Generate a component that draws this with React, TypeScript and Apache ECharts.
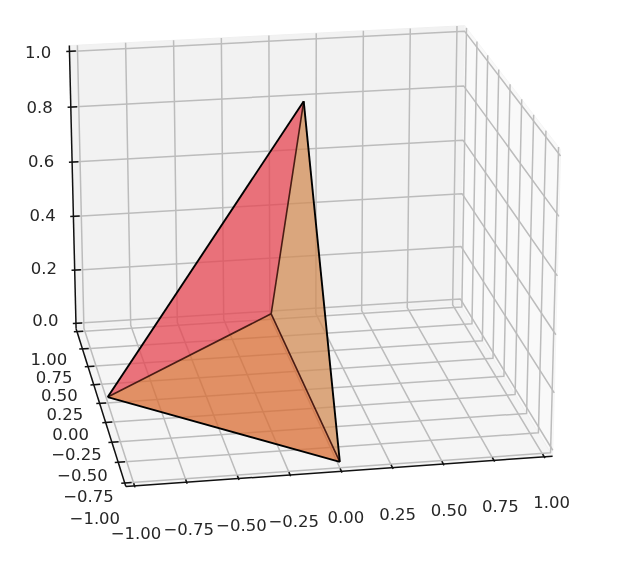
import React, { useEffect, useRef } from "react";
import * as echarts from "echarts";

const xTicks = [-1, -0.75, -0.5, -0.25, 0, 0.25, 0.5, 0.75, 1];
const yTicks = [-1, -0.75, -0.5, -0.25, 0, 0.25, 0.5, 0.75, 1];
const zTicks = [0, 0.2, 0.4, 0.6, 0.8, 1];
const xTickLabels = ["−1.00", "−0.75", "−0.50", "−0.25", "0.00", "0.25", "0.50", "0.75", "1.00"];
const yTickLabels = ["−1.00", "−0.75", "−0.50", "−0.25", "0.00", "0.25", "0.50", "0.75", "1.00"];
const zTickLabels = ["0.0", "0.2", "0.4", "0.6", "0.8", "1.0"];
type V3 = number[];
const leftVertex: V3 = [-1, 0, 0];
const backVertex: V3 = [0, 1, 0];
const frontVertex: V3 = [0, -1, 0];
const apexVertex: V3 = [0, 0, 1];

const dot = (a: V3, b: V3) => a[0] * b[0] + a[1] * b[1] + a[2] * b[2];
const cross = (a: V3, b: V3) => [a[1] * b[2] - a[2] * b[1], a[2] * b[0] - a[0] * b[2], a[0] * b[1] - a[1] * b[0]];
const norm = (a: V3) => { const l = Math.sqrt(dot(a, a)); return a.map((v) => v / l); };
const box = [4, 4, 3].map((v) => (v / Math.sqrt(41)) * 1.8294640721620434);

function camera(elDeg: number, azDeg: number) {
  const el = (elDeg * Math.PI) / 180, az = (azDeg * Math.PI) / 180;
  const w = [Math.cos(el) * Math.cos(az), Math.cos(el) * Math.sin(az), Math.sin(el)];
  const E = [box[0] / 2 + 10 * w[0], box[1] / 2 + 10 * w[1], box[2] / 2 + 10 * w[2]];
  const u = norm(cross([0, 0, 1], w));
  const v = cross(w, u);
  return (p: V3) => {
    const q = [((p[0] + 1) / 2) * box[0], ((p[1] + 1) / 2) * box[1], p[2] * box[2]];
    const d = [q[0] - E[0], q[1] - E[1], q[2] - E[2]];
    const z = -dot(w, d);
    return [dot(u, d) / z, dot(v, d) / z];
  };
}
const cam = camera(20, -100);
const P = (p: V3) => { const q = cam(p); return [303.7 + 3500.9 * q[0], 244.7 - 3508.3 * q[1]]; };

const M = 1.0417, ZL = -0.0208, ZH = 1.0208;
type Item = { pts?: V3[]; fill?: string; stroke?: string; lw?: number; text?: string; at?: V3; opacity?: number };
const items: Item[] = [];
items.push({ pts: [[-M, M, ZL], [M, M, ZL], [M, M, ZH], [-M, M, ZH]], fill: "#F2F2F2", stroke: "#F0F0F0", lw: 1 });
items.push({ pts: [[M, M, ZL], [M, -M, ZL], [M, -M, ZH], [M, M, ZH]], fill: "#F9F9F9", stroke: "#F5F5F5", lw: 1 });
items.push({ pts: [[-M, -M, ZL], [M, -M, ZL], [M, M, ZL], [-M, M, ZL]], fill: "#F5F5F5", stroke: "#F0F0F0", lw: 1 });
const G = "#BCBCBC", GW = 1.5;
xTicks.forEach((x) => items.push({ pts: [[x, -M, ZL], [x, M, ZL], [x, M, ZH]], stroke: G, lw: GW }));
yTicks.forEach((y) => items.push({ pts: [[-M, y, ZL], [M, y, ZL], [M, y, ZH]], stroke: G, lw: GW }));
zTicks.forEach((z) => items.push({ pts: [[-M, M, z], [M, M, z], [M, -M, z]], stroke: G, lw: GW }));
const faces: [V3[], string][] = [
  [[leftVertex, backVertex, frontVertex], "#D96D34"],
  [[backVertex, frontVertex, apexVertex], "#D18C56"],
  [[leftVertex, backVertex, apexVertex], "#E54552"],
];
faces.forEach(([pts, c]) => items.push({ pts, fill: c, opacity: 0.75 }));
[[backVertex, leftVertex], [backVertex, frontVertex], [backVertex, apexVertex]].forEach((pts) => items.push({ pts, stroke: "#4A1C14", lw: 1.6 }));
[[leftVertex, apexVertex], [apexVertex, frontVertex], [frontVertex, leftVertex]].forEach((pts) => items.push({ pts, stroke: "#000", lw: 1.9 }));
const AX = "#111", AW = 1.5;
items.push({ pts: [[-M, -M, ZL], [M, -M, ZL]], stroke: AX, lw: AW });
items.push({ pts: [[-M, -M, ZL], [-M, M, ZL]], stroke: AX, lw: AW });
items.push({ pts: [[-M, M, ZL], [-M, M, ZH]], stroke: AX, lw: AW });
xTicks.forEach((x, i) => {
  items.push({ pts: [[x, -M - 0.0167, ZL], [x, -M + 0.033, ZL]], stroke: AX, lw: AW });
  items.push({ text: xTickLabels[i], at: [x * 1.01 - 0.006, -M - 0.15, ZL - 0.118] });
});
yTicks.forEach((y, i) => {
  items.push({ pts: [[-M - 0.0167, y, ZL], [-M + 0.033, y, ZL]], stroke: AX, lw: AW });
  items.push({ text: yTickLabels[i], at: [-M - 0.15, y * 1.03, ZL - 0.105] });
});
zTicks.forEach((z, i) => {
  items.push({ pts: [[-M - 0.0167, M, z], [-M + 0.033, M, z]], stroke: AX, lw: AW });
  items.push({ text: zTickLabels[i], at: [-M - 0.16, M + 0.02, 0.012 + z * 0.985] });
});

export default function App() {
  const ref = useRef<HTMLDivElement>(null);
  useEffect(() => {
    const chart = echarts.init(ref.current!, undefined, { renderer: "svg" });
    chart.setOption({
      animation: false,
      grid: { left: 0, top: 0, width: 630, height: 572 },
      xAxis: { type: "value", min: 0, max: 630, show: false },
      yAxis: { type: "value", min: 0, max: 572, inverse: true, show: false },
      series: [{
        type: "custom", silent: true, clip: false, coordinateSystem: "cartesian2d",
        data: items.map((_, i) => [i]),
        renderItem: (params: any, api: any) => {
          const it = items[params.dataIndex];
          if (it.text) {
            const c = api.coord(P(it.at!));
            return { type: "text", x: c[0], y: c[1], style: { text: it.text, fill: "#262626", font: '16.5px "DejaVu Sans"', align: "center", verticalAlign: "middle" } };
          }
          const points = it.pts!.map((p) => api.coord(P(p)));
          return {
            type: it.fill ? "polygon" : "polyline",
            shape: { points },
            style: { fill: it.fill ?? "none", stroke: it.stroke ?? "none", lineWidth: it.lw ?? 0, opacity: it.opacity ?? 1, lineJoin: "round" },
          };
        },
      }],
    });
    return () => chart.dispose();
  }, []);
  return <div ref={ref} style={{ position: "fixed", left: 0, top: 0, width: 630, height: 572, background: "#fff", filter: "blur(0.7px)" }} />;
}
